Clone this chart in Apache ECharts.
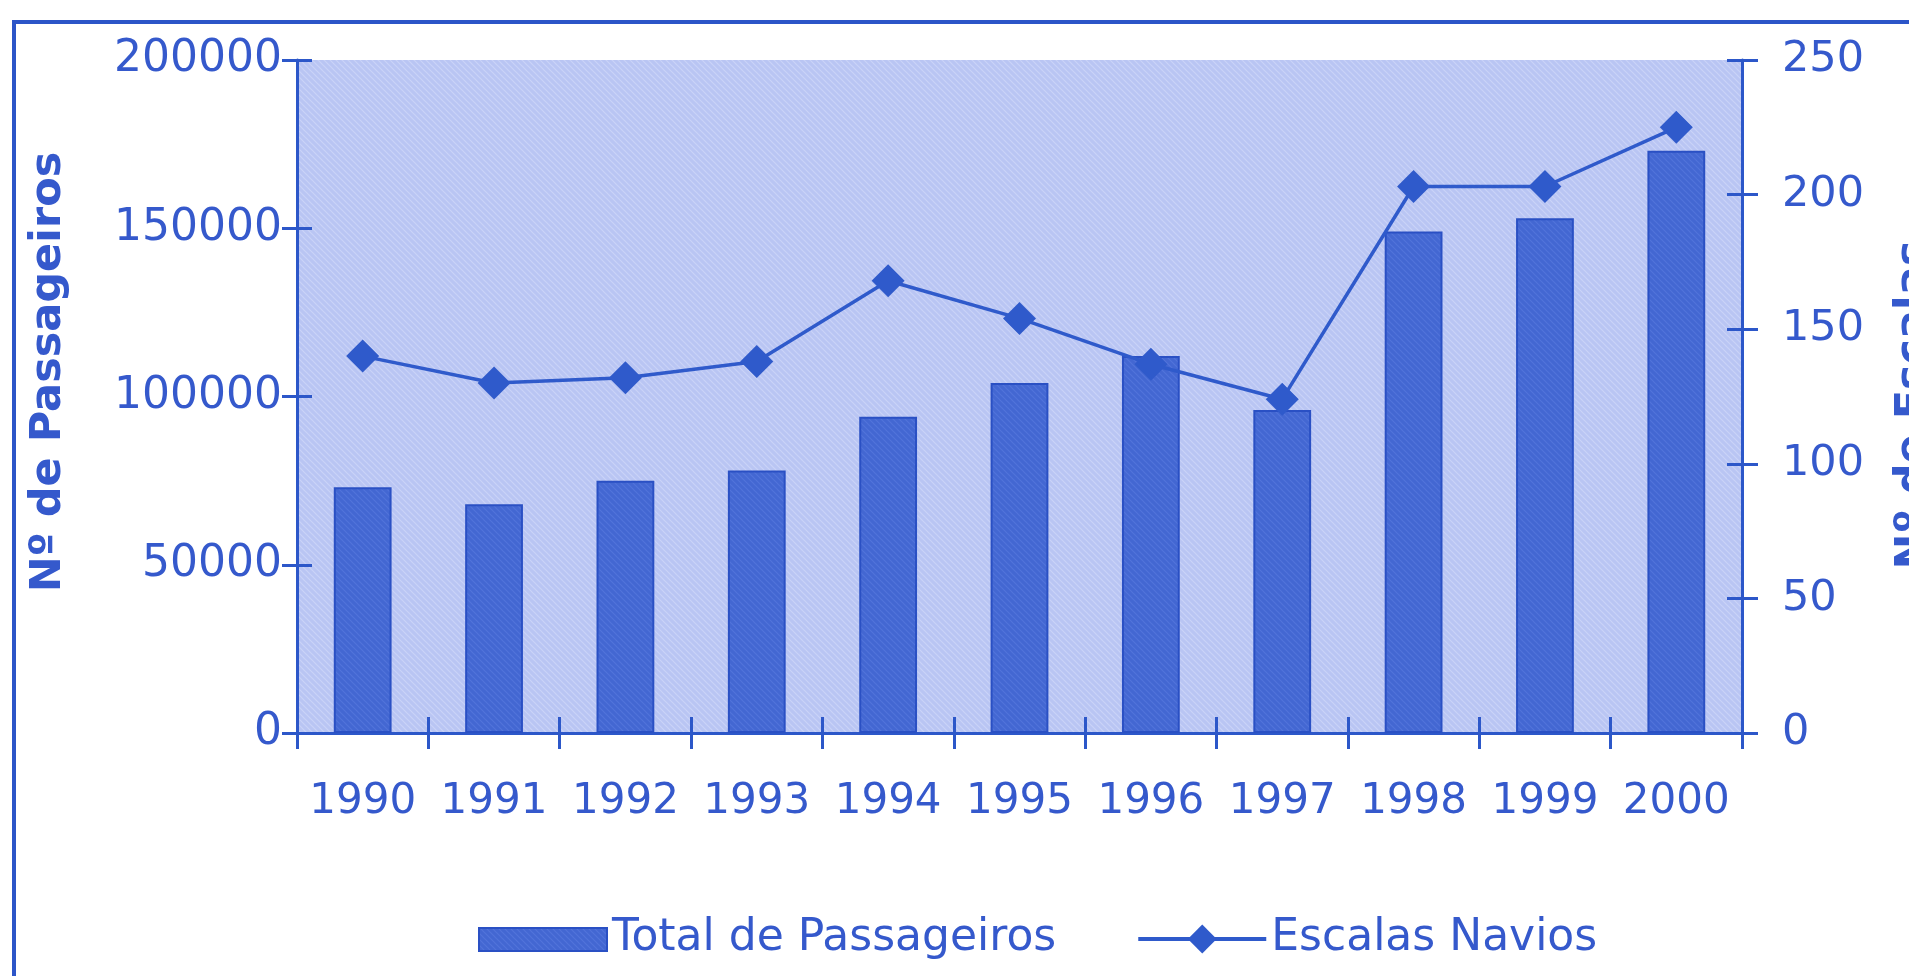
<!DOCTYPE html>
<html>
<head>
<meta charset="utf-8">
<script src="https://cdn.jsdelivr.net/npm/echarts@6/dist/echarts.min.js"></script>
<style>
html,body{margin:0;padding:0;background:#fff;}
#chart{width:1909px;height:976px;}
</style>
</head>
<body>
<div id="chart"></div>
<script>
const years = ['1990','1991','1992','1993','1994','1995','1996','1997','1998','1999','2000'];
const totalPassageiros = [73000, 68000, 75000, 78000, 94000, 104000, 112000, 96000, 149000, 153000, 173000];
const escalasNavios = [140, 130, 132, 138, 168, 154, 137, 124, 203, 203, 225];
const leftTicks = [0, 50000, 100000, 150000, 200000];
const rightTicks = [0, 50, 100, 150, 200, 250];

const BLUE = '#2c57c9';
const TEXT = '#3559cc';
const FONT = 'DejaVu Sans';

function hatch(base, line) {
  const c = document.createElement('canvas');
  c.width = 6; c.height = 6;
  const g = c.getContext('2d');
  g.fillStyle = base; g.fillRect(0, 0, 6, 6);
  g.strokeStyle = line; g.lineWidth = 1.2;
  g.beginPath();
  g.moveTo(0, 0); g.lineTo(6, 6);
  g.moveTo(-3, 3); g.lineTo(3, 9);
  g.moveTo(3, -3); g.lineTo(9, 3);
  g.stroke();
  return c;
}

const chart = echarts.init(document.getElementById('chart'), null, {renderer: 'canvas'});
const leftMax = leftTicks[leftTicks.length - 1];
const leftInt = leftTicks[1] - leftTicks[0];
const rightMax = rightTicks[rightTicks.length - 1];
const rightInt = rightTicks[1] - rightTicks[0];
const plain = v => String(v);

const option = {
  animation: false,
  backgroundColor: '#ffffff',
  grid: {
    left: 297, right: 167, top: 60, bottom: 243,
    show: true,
    backgroundColor: {image: hatch('#b9c5f3', '#cad3f7'), repeat: 'repeat'},
    borderWidth: 0
  },
  legend: {
    left: 473, top: 909,
    itemWidth: 128, itemHeight: 36, itemGap: 80,
    textStyle: {fontFamily: FONT, fontSize: 44, color: TEXT, lineHeight: 50},
    data: [
      {name: 'Total de Passageiros', icon: 'path://M0,0 M0,7 L128,7 L128,30 L0,30 Z M128,36'},
      {name: 'Escalas Navios', lineStyle: {width: 4}}
    ]
  },
  xAxis: [
    {
      type: 'category', data: years, position: 'bottom', boundaryGap: true,
      axisLine: {show: true, lineStyle: {color: BLUE, width: 3}},
      axisTick: {show: true, length: 16, inside: false, lineStyle: {color: BLUE, width: 3}},
      axisLabel: {fontFamily: FONT, fontSize: 42, color: TEXT, margin: 44, lineHeight: 50, interval: 0, hideOverlap: false},
      splitLine: {show: false}
    },
    {
      type: 'category', data: years, position: 'bottom', boundaryGap: true,
      axisLine: {show: false},
      axisTick: {show: true, length: 16, inside: true, lineStyle: {color: BLUE, width: 3}},
      axisLabel: {show: false},
      splitLine: {show: false}
    }
  ],
  yAxis: [
    {
      type: 'value', position: 'left', min: 0, max: leftMax, interval: leftInt,
      axisLine: {show: true, lineStyle: {color: BLUE, width: 3}},
      axisTick: {show: true, length: 15, inside: false, lineStyle: {color: BLUE, width: 3}},
      axisLabel: {fontFamily: FONT, fontSize: 44, color: TEXT, margin: 15, formatter: plain},
      splitLine: {show: false}
    },
    {
      type: 'value', position: 'right', min: 0, max: rightMax, interval: rightInt,
      axisLine: {show: true, lineStyle: {color: BLUE, width: 3}},
      axisTick: {show: true, length: 16, inside: false, lineStyle: {color: BLUE, width: 3}},
      axisLabel: {fontFamily: FONT, fontSize: 43, color: TEXT, margin: 40, formatter: plain},
      splitLine: {show: false}
    },
    {
      type: 'value', position: 'left', min: 0, max: leftMax, interval: leftInt,
      axisLine: {show: false},
      axisTick: {show: true, length: 15, inside: true, lineStyle: {color: BLUE, width: 3}},
      axisLabel: {show: false},
      splitLine: {show: false}
    },
    {
      type: 'value', position: 'right', min: 0, max: rightMax, interval: rightInt,
      axisLine: {show: false},
      axisTick: {show: true, length: 15, inside: true, lineStyle: {color: BLUE, width: 3}},
      axisLabel: {show: false},
      splitLine: {show: false}
    }
  ],
  series: [
    {
      name: 'Total de Passageiros', type: 'bar', xAxisIndex: 0, yAxisIndex: 0,
      data: totalPassageiros, barWidth: '44%',
      itemStyle: {color: {image: hatch('#4367d2', '#5274da'), repeat: 'repeat'}, borderColor: '#2a50c4', borderWidth: 2}
    },
    {
      name: 'Escalas Navios', type: 'line', xAxisIndex: 0, yAxisIndex: 1,
      data: escalasNavios, symbol: 'diamond', symbolSize: 33,
      lineStyle: {color: '#2f5acb', width: 3.5},
      itemStyle: {color: '#2f5acb'},
      z: 5
    }
  ],
  graphic: [
    {
      type: 'rect', shape: {x: 14, y: 22, width: 1920, height: 1000},
      style: {fill: 'none', stroke: '#2c55c8', lineWidth: 4}, silent: true
    },
    {
      type: 'text', x: 49, y: 372, rotation: Math.PI / 2,
      style: {text: 'Nº de Passageiros', fontFamily: FONT, fontWeight: 'bold', fontSize: 43,
        fill: TEXT, align: 'center', verticalAlign: 'middle'}
    },
    {
      type: 'text', x: 1914, y: 405, rotation: Math.PI / 2,
      style: {text: 'Nº de Escalas', fontFamily: FONT, fontWeight: 'bold', fontSize: 43,
        fill: TEXT, align: 'center', verticalAlign: 'middle'}
    }
  ]
};
chart.setOption(option);
</script>
</body>
</html>
